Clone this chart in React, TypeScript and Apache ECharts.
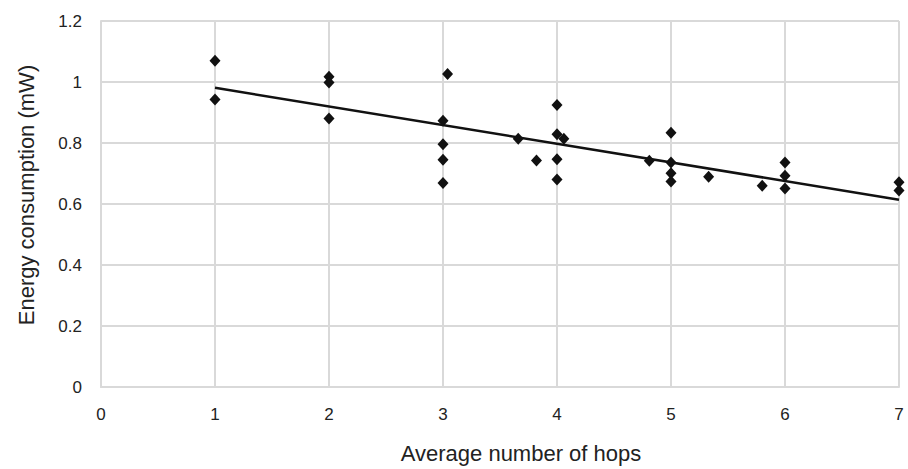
import React, { useEffect, useRef } from "react";
import * as echarts from "echarts";

const hops = [1, 1, 2, 2, 2, 3, 3, 3, 3, 3.04, 3.66, 3.82, 4, 4, 4, 4, 4.06, 4.81, 5, 5, 5, 5, 5.33, 5.8, 6, 6, 6, 7, 7];
const energy = [1.07, 0.943, 1.017, 0.998, 0.88, 0.873, 0.796, 0.745, 0.669, 1.026, 0.814, 0.743, 0.925, 0.829, 0.747, 0.68, 0.814, 0.742, 0.834, 0.736, 0.701, 0.674, 0.689, 0.66, 0.736, 0.693, 0.651, 0.671, 0.644];
const trendX = [1, 7];
const trendY = [0.981, 0.614];
const xTicks = [0, 1, 2, 3, 4, 5, 6, 7];
const yTicks = [0, 0.2, 0.4, 0.6, 0.8, 1, 1.2];

export default function App() {
  const ref = useRef<HTMLDivElement>(null);
  useEffect(() => {
    const chart = echarts.init(ref.current!, null, { renderer: "svg" });
    const font = "'Liberation Sans', Arial, sans-serif";
    chart.setOption({
      animation: false,
      textStyle: { fontFamily: font },
      grid: { left: 101, right: 9, top: 21, bottom: 81 },
      xAxis: {
        type: "value",
        min: xTicks[0],
        max: xTicks[xTicks.length - 1],
        interval: 1,
        name: "Average number of hops",
        nameLocation: "middle",
        nameGap: 55,
        nameTextStyle: { fontSize: 22, color: "#222", fontFamily: font, padding: [0, 0, 0, 42] },
        axisLine: { show: true, lineStyle: { color: "#d9d9d9", width: 2 } },
        axisTick: { show: false },
        axisLabel: { fontSize: 17, color: "#222", margin: 19, fontFamily: font },
        splitLine: { show: true, lineStyle: { color: "#d9d9d9", width: 2 } },
      },
      yAxis: {
        type: "value",
        min: yTicks[0],
        max: yTicks[yTicks.length - 1],
        interval: 0.2,
        name: "Energy consumption (mW)",
        nameLocation: "middle",
        nameGap: 64,
        nameTextStyle: { fontSize: 22, color: "#222", fontFamily: font, padding: [0, 0, 0, 18] },
        axisLine: { show: true, lineStyle: { color: "#d9d9d9", width: 2 } },
        axisTick: { show: false },
        axisLabel: {
          fontSize: 17,
          color: "#222",
          margin: 19,
          fontFamily: font,
          formatter: (v: number) => String(Math.round(v * 10) / 10),
        },
        splitLine: { show: true, lineStyle: { color: "#d9d9d9", width: 2 } },
      },
      series: [
        {
          type: "line",
          data: trendX.map((x, i) => [x, trendY[i]]),
          showSymbol: false,
          symbol: "none",
          lineStyle: { color: "#111", width: 2.5 },
          z: 2,
        },
        {
          type: "scatter",
          data: hops.map((x, i) => [x, energy[i]]),
          symbol: "diamond",
          symbolSize: [11, 12],
          itemStyle: { color: "#111", opacity: 1 },
          z: 3,
        },
      ],
    });
    return () => chart.dispose();
  }, []);
  return <div ref={ref} style={{ width: 908, height: 469, position: "absolute", left: 0, top: 0 }} />;
}
